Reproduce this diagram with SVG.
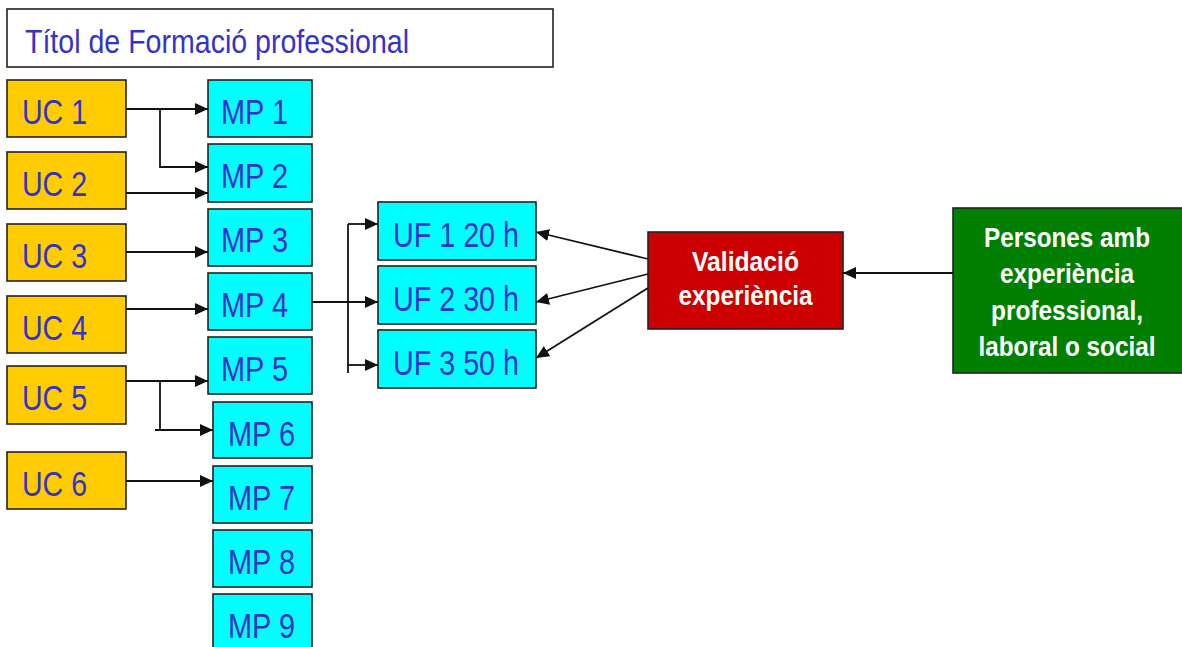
<svg xmlns="http://www.w3.org/2000/svg" width="1182" height="647" viewBox="0 0 1182 647">
<style>
.uc{fill:#FFCC00;stroke:#222;stroke-width:1.6}
.mp{fill:#00FFFF;stroke:#222;stroke-width:1.6}
.lb{font-family:"Liberation Sans",Arial,sans-serif;font-size:35px;fill:#3333CC}
.tt{font-family:"Liberation Sans",Arial,sans-serif;font-size:33px;fill:#3333CC}
.wt{font-family:"Liberation Sans",Arial,sans-serif;font-size:28px;font-weight:bold;fill:#FFFFFF;text-anchor:middle}
.cn{fill:none;stroke:#111;stroke-width:1.8}
</style>
<defs>
<marker id="ar" markerUnits="userSpaceOnUse" markerWidth="13" markerHeight="12" refX="13" refY="6" orient="auto">
<path d="M0,0 L13,6 L0,12 z" fill="#111"/>
</marker>
</defs>
<rect width="1182" height="647" fill="#FFFFFF"/>
<g id="title">
<rect x="7" y="9" width="546" height="58" fill="#FFFFFF" stroke="#222" stroke-width="1.6"/>
<text class="tt" x="25" y="53" textLength="384" lengthAdjust="spacingAndGlyphs">Títol de Formació professional</text>
</g>
<g id="uc1"><rect class="uc" x="7" y="80" width="119" height="57"/><text class="lb" x="22" y="124" textLength="65" lengthAdjust="spacingAndGlyphs">UC 1</text></g>
<g id="uc2"><rect class="uc" x="7" y="152" width="119" height="57"/><text class="lb" x="22" y="196" textLength="65" lengthAdjust="spacingAndGlyphs">UC 2</text></g>
<g id="uc3"><rect class="uc" x="7" y="224" width="119" height="57"/><text class="lb" x="22" y="268" textLength="65" lengthAdjust="spacingAndGlyphs">UC 3</text></g>
<g id="uc4"><rect class="uc" x="7" y="296" width="119" height="57"/><text class="lb" x="22" y="340" textLength="65" lengthAdjust="spacingAndGlyphs">UC 4</text></g>
<g id="uc5"><rect class="uc" x="7" y="366" width="119" height="58"/><text class="lb" x="22" y="410" textLength="65" lengthAdjust="spacingAndGlyphs">UC 5</text></g>
<g id="uc6"><rect class="uc" x="7" y="452" width="119" height="57"/><text class="lb" x="22" y="496" textLength="65" lengthAdjust="spacingAndGlyphs">UC 6</text></g>
<g id="mp1"><rect class="mp" x="208" y="80" width="104" height="57"/><text class="lb" x="221" y="124" textLength="67" lengthAdjust="spacingAndGlyphs">MP 1</text></g>
<g id="mp2"><rect class="mp" x="208" y="144" width="104" height="58"/><text class="lb" x="221" y="188" textLength="67" lengthAdjust="spacingAndGlyphs">MP 2</text></g>
<g id="mp3"><rect class="mp" x="208" y="209" width="104" height="57"/><text class="lb" x="221" y="252" textLength="67" lengthAdjust="spacingAndGlyphs">MP 3</text></g>
<g id="mp4"><rect class="mp" x="208" y="273" width="104" height="57"/><text class="lb" x="221" y="317" textLength="67" lengthAdjust="spacingAndGlyphs">MP 4</text></g>
<g id="mp5"><rect class="mp" x="208" y="337" width="104" height="57"/><text class="lb" x="221" y="381" textLength="67" lengthAdjust="spacingAndGlyphs">MP 5</text></g>
<g id="mp6"><rect class="mp" x="213" y="402" width="99" height="56"/><text class="lb" x="228" y="446" textLength="67" lengthAdjust="spacingAndGlyphs">MP 6</text></g>
<g id="mp7"><rect class="mp" x="213" y="466" width="99" height="57"/><text class="lb" x="228" y="510" textLength="67" lengthAdjust="spacingAndGlyphs">MP 7</text></g>
<g id="mp8"><rect class="mp" x="213" y="530" width="99" height="57"/><text class="lb" x="228" y="574" textLength="67" lengthAdjust="spacingAndGlyphs">MP 8</text></g>
<g id="mp9"><rect class="mp" x="213" y="594" width="99" height="57"/><text class="lb" x="228" y="638" textLength="67" lengthAdjust="spacingAndGlyphs">MP 9</text></g>
<g id="uf1"><rect class="mp" x="378" y="202" width="158" height="58"/><text class="lb" x="393" y="247" textLength="126" lengthAdjust="spacingAndGlyphs">UF 1 20 h</text></g>
<g id="uf2"><rect class="mp" x="378" y="266" width="158" height="58"/><text class="lb" x="393" y="311" textLength="126" lengthAdjust="spacingAndGlyphs">UF 2 30 h</text></g>
<g id="uf3"><rect class="mp" x="378" y="330" width="158" height="58"/><text class="lb" x="393" y="375" textLength="126" lengthAdjust="spacingAndGlyphs">UF 3 50 h</text></g>
<g id="validacio">
<rect x="648" y="232" width="195" height="97" fill="#CC0000" stroke="#222" stroke-width="1.6"/>
<text class="wt" x="745.5" y="271" textLength="107" lengthAdjust="spacingAndGlyphs">Validació</text>
<text class="wt" x="745.5" y="305" textLength="134" lengthAdjust="spacingAndGlyphs">experiència</text>
</g>
<g id="persones">
<rect x="953" y="208" width="236" height="165" fill="#007F00" stroke="#222" stroke-width="1.6"/>
<text class="wt" x="1067" y="247" textLength="166" lengthAdjust="spacingAndGlyphs">Persones amb</text>
<text class="wt" x="1067" y="283" textLength="134" lengthAdjust="spacingAndGlyphs">experiència</text>
<text class="wt" x="1067" y="320" textLength="152" lengthAdjust="spacingAndGlyphs">professional,</text>
<text class="wt" x="1067" y="356" textLength="177" lengthAdjust="spacingAndGlyphs">laboral o social</text>
</g>
<g id="connectors">
<path class="cn" d="M126,109 H208" marker-end="url(#ar)"/>
<path class="cn" d="M160,109 V167 H208" marker-end="url(#ar)"/>
<path class="cn" d="M126,193 H208" marker-end="url(#ar)"/>
<path class="cn" d="M126,252 H208" marker-end="url(#ar)"/>
<path class="cn" d="M126,309 H208" marker-end="url(#ar)"/>
<path class="cn" d="M126,381 H208" marker-end="url(#ar)"/>
<path class="cn" d="M160,381 V430"/>
<path class="cn" d="M155,430 H213" marker-end="url(#ar)"/>
<path class="cn" d="M126,481 H213" marker-end="url(#ar)"/>
<path class="cn" d="M312,302 H378" marker-end="url(#ar)"/>
<path class="cn" d="M348,224 V373"/>
<path class="cn" d="M348,224 H378" marker-end="url(#ar)"/>
<path class="cn" d="M348,365 H378" marker-end="url(#ar)"/>
<path class="cn" d="M648,259 L536,232" marker-end="url(#ar)"/>
<path class="cn" d="M648,274 L536,302" marker-end="url(#ar)"/>
<path class="cn" d="M648,288 L536,358" marker-end="url(#ar)"/>
<path class="cn" d="M953,273 H843" marker-end="url(#ar)"/>
</g>
</svg>
